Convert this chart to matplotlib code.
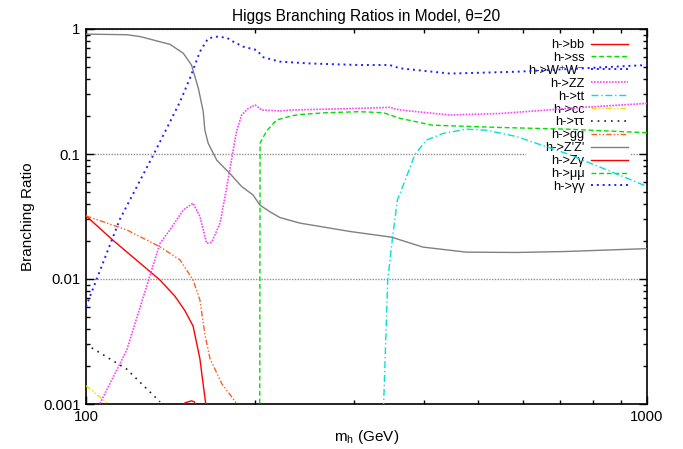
"""Higgs branching ratios vs Higgs mass (log-log), gnuplot-style."""

import matplotlib

matplotlib.use("Agg")
import matplotlib.pyplot as plt
from matplotlib.ticker import FixedLocator, FuncFormatter, LogLocator, NullFormatter

plt.rcParams["font.family"] = ["Liberation Sans", "DejaVu Sans"]

# masses (GeV) and branching ratios
bb_m = [100, 111.6, 135.5, 144, 150, 155.2, 159.6, 163.6, 165]
bb_br = [0.032, 0.0205, 0.0098, 0.0073, 0.0056, 0.0042, 0.0023, 0.00097, 0.0007]

ss_m = [204.0, 204.3, 209.9, 218.6, 233.8, 240.6, 268.6, 307.3, 339, 362.7, 414.5, 548, 720, 1000]
ss_br = [0.0005, 0.122, 0.153, 0.187, 0.203, 0.207, 0.214, 0.218, 0.214, 0.193, 0.17, 0.163, 0.158, 0.148]

ww_m = [100, 114.9, 119.8, 131.8, 141.2, 147.1, 153.2, 159.6, 165.1, 171.1, 178.2, 183.1,
        190.7, 201.4, 207.1, 215.9, 221.7, 250.6, 307.3, 347.8, 362.7, 445.5, 584.6, 769, 1000]
ww_br = [0.006, 0.030, 0.043, 0.098, 0.181, 0.262, 0.403, 0.658, 0.842, 0.868, 0.852, 0.791,
         0.722, 0.679, 0.594, 0.565, 0.548, 0.53, 0.515, 0.515, 0.485, 0.44, 0.455, 0.485, 0.515]

zz_m = [105.9, 118.2, 135.5, 141.2, 149.1, 155.2, 159.6, 164.1, 167.5, 173.3, 176.9, 180.4, 183.0,
        185.6, 189.4, 194.7, 200.2, 205.6, 221.7, 233.8, 307.3, 347.8, 362.7, 445.5, 548, 769, 1000]
zz_br = [0.00101, 0.0027, 0.0193, 0.0248, 0.0357, 0.0404, 0.0316, 0.0193, 0.0197, 0.0279, 0.0455, 0.0745,
         0.108, 0.153, 0.205, 0.232, 0.247, 0.225, 0.221, 0.225, 0.232, 0.236, 0.225, 0.205, 0.211, 0.236, 0.254]

tt_m = [339, 345, 352, 359, 372.8, 385.3, 404, 433, 476, 518, 584.6, 718, 822, 1000]
tt_br = [0.0009, 0.0098, 0.0217, 0.043, 0.066, 0.098, 0.129, 0.146, 0.158, 0.155, 0.138, 0.101, 0.079, 0.055]

cc_m = [100, 109.6]
cc_br = [0.0014, 0.001]

tautau_m = [100, 118.2, 135.5]
tautau_br = [0.0030, 0.0019, 0.00104]

gg_m = [100, 118.2, 135.5, 147.1, 155.2, 159.6, 162.9, 166.4, 174.5, 185.6]
gg_br = [0.032, 0.0247, 0.0181, 0.0142, 0.0098, 0.0068, 0.0036, 0.0023, 0.00146, 0.00101]

zpzp_m = [100, 118.2, 124.8, 130, 135.5, 141.2, 149.1, 154.2, 158.6, 161.8, 162.9, 165.1, 171.1, 180.4,
          189.4, 198.5, 204.2, 212.7, 221.7, 240.6, 295.5, 350.6, 398.6, 476.1, 584.6, 718, 1000]
zpzp_br = [0.91, 0.9, 0.87, 0.83, 0.79, 0.754, 0.639, 0.515, 0.335, 0.218, 0.155, 0.122, 0.089, 0.070,
           0.055, 0.047, 0.039, 0.0345, 0.031, 0.028, 0.024, 0.0216, 0.018, 0.0164, 0.0163, 0.0166, 0.0175]

zgam_m = [146, 150, 154.2, 156, 158]
zgam_br = [0.0009, 0.00102, 0.00106, 0.00104, 0.0009]

mumu_m = []
mumu_br = []

gamgam_m = []
gamgam_br = []

series = [
    ("h->bb", bb_m, bb_br, "#ff0000", "-", 1.0),
    ("h->ss", ss_m, ss_br, "#00e000", (0, (3.5, 2)), 1.0),
    ("h->W⁺W⁻", ww_m, ww_br, "#2020ff", (0, (1, 2)), 1.4),
    ("h->ZZ", zz_m, zz_br, "#ff40ff", (0, (1, 0.8)), 1.2),
    ("h->tt", tt_m, tt_br, "#00e0e0", (0, (5, 2, 1, 2)), 1.0),
    ("h->cc", cc_m, cc_br, "#f0e000", (0, (4, 1.5, 1, 1.5, 1, 1.5)), 1.0),
    ("h->ττ", tautau_m, tautau_br, "#202020", (0, (1, 3)), 1.2),
    ("h->gg", gg_m, gg_br, "#ff6020", (0, (4, 1.5, 1, 1.5, 1, 1.5)), 1.0),
    ("h->Z'Z'", zpzp_m, zpzp_br, "#808080", "-", 1.0),
    ("h->Zγ", zgam_m, zgam_br, "#ff0000", "-", 1.0),
    ("h->μμ", mumu_m, mumu_br, "#00e000", (0, (3.5, 2)), 1.0),
    ("h->γγ", gamgam_m, gamgam_br, "#2020ff", (0, (1, 2)), 1.4),
]

fig = plt.figure(figsize=(6.83, 4.49), dpi=100)
ax = fig.add_axes([86 / 683, 1 - 404 / 449, 561 / 683, 375 / 449])

for label, m, br, color, style, width in series:
    ax.plot(m, br, color=color, linestyle=style, linewidth=width, label=label, zorder=3)

ax.set_xscale("log")
ax.set_yscale("log")
ax.set_xlim(100, 1000)
ax.set_ylim(0.001, 1)

ax.xaxis.set_major_locator(FixedLocator([100, 1000]))
ax.xaxis.set_minor_locator(LogLocator(base=10, subs=range(2, 10)))
ax.yaxis.set_minor_locator(LogLocator(base=10, subs=range(2, 10)))
fmt = FuncFormatter(lambda v, _: f"{v:g}")
ax.xaxis.set_major_formatter(fmt)
ax.yaxis.set_major_formatter(fmt)
ax.xaxis.set_minor_formatter(NullFormatter())
ax.yaxis.set_minor_formatter(NullFormatter())
ax.tick_params(which="both", direction="in", top=True, right=True, labelsize=10.7, width=1.0)
ax.tick_params(which="major", length=6, pad=4)
ax.tick_params(which="minor", length=3)
for spine in ax.spines.values():
    spine.set_linewidth(1.2)

ax.set_axisbelow(True)
ax.yaxis.grid(True, which="major", linestyle=(0, (1, 1)), color="#909090", linewidth=1.0)

ax.set_title("Higgs Branching Ratios in Model, θ=20", fontsize=11.2, pad=6)
ax.set_xlabel("m$_\\mathregular{h}$ (GeV)", fontsize=11, labelpad=3)
ax.set_ylabel("Branching Ratio", fontsize=11, labelpad=6)

leg = ax.legend(loc="upper right", bbox_to_anchor=(0.9715, 0.98), markerfirst=False,
                frameon=True, fontsize=9.2, handlelength=2.9, handletextpad=0.55,
                labelspacing=0.07, borderaxespad=0, borderpad=0.2, fancybox=False,
                framealpha=1.0)
leg.get_frame().set_edgecolor("none")
leg.set_zorder(2)

fig.savefig("out.png", dpi=100)
